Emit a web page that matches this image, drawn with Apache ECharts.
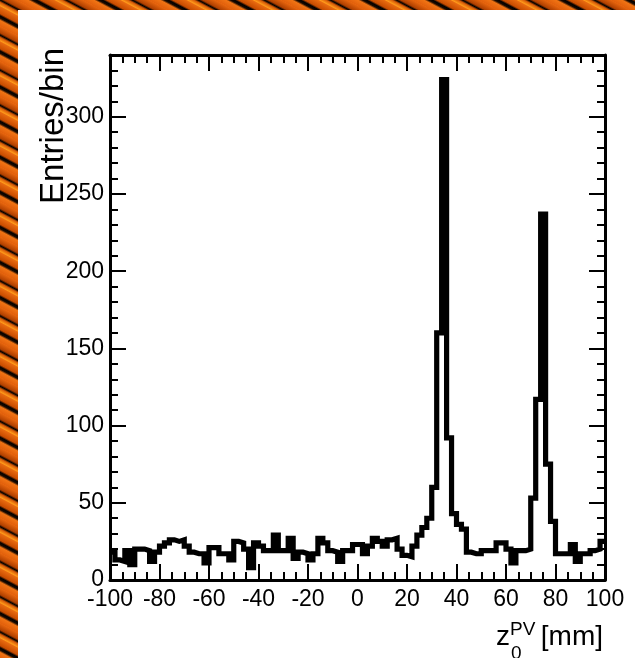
<!DOCTYPE html>
<html><head><meta charset="utf-8">
<script src="https://cdn.jsdelivr.net/npm/echarts@6/dist/echarts.min.js"></script>
<style>
html,body{margin:0;padding:0;width:635px;height:658px;overflow:hidden;}
body{background: repeating-linear-gradient(28deg, #e2600c 0px, #f07414 5px, #1a0a00 7px, #000 9px, #c84c00 11px, #e86a10 17px, #ff9a1a 18px, #d65a08 21px, #000 23px, #b04000 25px, #e8660e 31px);}
#panel{position:absolute;left:18px;top:10px;width:617px;height:648px;background:#fff;}
#chart{position:absolute;left:0;top:0;width:635px;height:658px;}
</style></head>
<body><div id="panel"></div><div id="chart"></div>
<script>
// Histogram: z0 of primary vertex, 2 mm bins from -100 to 100 mm
const xMin = -100, xMax = 100, binWidth = 2;
const entries = [
  18,13,12,19,10,20,20,19,12,18,
  22,24,26,25,26,22,18,17,17,11,
  21,21,17,17,13,25,24,20,8,24,
  22,19,19,29,19,19,27,14,18,17,
  13,17,27,24,19,18,12,19,19,23,
  23,17,22,27,25,22,26,27,20,16,
  15,22,29,34,40,60,160,324,92,43,
  36,33,18,17,17,19,19,19,24,24,
  20,11,19,19,20,53,117,237,75,38,
  17,17,17,23,12,17,17,19,20,25
];
const xTickLabels = ['-100','-80','-60','-40','-20','0','20','40','60','80','100'];
const yTickLabels = ['0','50','100','150','200','250','300'];
const yMax = 340;
const yTitle = 'Entries/bin';

const FONT = 'Liberation Sans, Arial, Helvetica, sans-serif';
const lowEdges = entries.map((_, i) => xMin + i * binWidth);
const stepData = entries.map((v, i) => [lowEdges[i], v]);
stepData.push([xMax, entries[entries.length - 1]]);

const black = '#000';
const lineAx = {show: true, onZero: false, lineStyle: {color: black, width: 3}};
const noLine = {show: false, onZero: false};
function xAx(pos, showLabel) {
  return {
    type: 'value', min: xMin, max: xMax, interval: 20, position: pos,
    axisLine: lineAx,
    axisTick: {show: true, inside: true, length: 16, lineStyle: {color: black, width: 2}},
    minorTick: {show: true, splitNumber: 4, length: 8, lineStyle: {color: black, width: 2}},
    splitLine: {show: false}, minorSplitLine: {show: false},
    axisLabel: {show: showLabel, color: black, fontFamily: FONT, fontSize: 23, margin: 8,
      formatter: v => xTickLabels[Math.round((v - xMin) / 20)] ?? ''}
  };
}
function yAx(pos, interval, len, showLabel, showLine) {
  return {
    type: 'value', min: 0, max: yMax, interval: interval, position: pos,
    axisLine: showLine ? lineAx : noLine,
    axisTick: {show: true, inside: true, length: len, lineStyle: {color: black, width: 2}},
    splitLine: {show: false},
    axisLabel: {show: showLabel, showMaxLabel: false, color: black, fontFamily: FONT, fontSize: 23, margin: 6,
      formatter: v => yTickLabels[Math.round(v / 50)] ?? ''}
  };
}

const chart = echarts.init(document.getElementById('chart'), null, {renderer: 'canvas'});
chart.setOption({
  animation: false,
  backgroundColor: 'transparent',
  grid: {left: 110, right: 30, top: 55, bottom: 78, containLabel: false},
  xAxis: [xAx('bottom', true), xAx('top', false)],
  yAxis: [yAx('left', 50, 16, true, true), yAx('left', 10, 8, false, false),
          yAx('right', 50, 16, false, true), yAx('right', 10, 8, false, false)],
  series: [{
    type: 'line', xAxisIndex: 0, yAxisIndex: 0, step: 'end', symbol: 'none',
    data: stepData, clip: true,
    lineStyle: {color: black, width: 5.2, join: 'miter', cap: 'butt'}
  }],
  graphic: [
    {type: 'text', x: 54, y: 48, rotation: Math.PI / 2,
     style: {text: yTitle, fontFamily: FONT, fontSize: 33, fill: black, align: 'right', verticalAlign: 'middle'}},
    {type: 'text', x: 496, y: 651, style: {text: 'z', fontFamily: FONT, fontSize: 28, fill: black, align: 'left', verticalAlign: 'bottom'}},
    {type: 'text', x: 511, y: 663, style: {text: '0', fontFamily: FONT, fontSize: 19, fill: black, align: 'left', verticalAlign: 'bottom'}},
    {type: 'text', x: 510, y: 639, style: {text: 'PV', fontFamily: FONT, fontSize: 19, fill: black, align: 'left', verticalAlign: 'bottom'}},
    {type: 'text', x: 603, y: 651, style: {text: '[mm]', fontFamily: FONT, fontSize: 28, fill: black, align: 'right', verticalAlign: 'bottom'}}
  ]
});
</script></body></html>
